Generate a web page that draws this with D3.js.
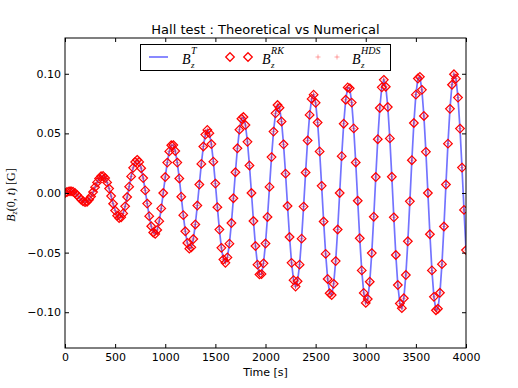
<!DOCTYPE html>
<html><head><meta charset="utf-8">
<script src="https://cdn.jsdelivr.net/npm/d3@7"></script>
<style>body{margin:0;background:#fff}</style>
</head><body><svg id="c" width="518" height="388"></svg>
<script>
// ---- data ----
const times = [
0,20,40,60,80,100,120,140,160,180,200,220,240,260,280,300,320,340,360,380,
400,420,440,460,480,500,520,540,560,580,600,620,640,660,680,700,720,740,760,780,
800,820,840,860,880,900,920,940,960,980,1000,1020,1040,1060,1080,1100,1120,1140,1160,1180,
1200,1220,1240,1260,1280,1300,1320,1340,1360,1380,1400,1420,1440,1460,1480,1500,1520,1540,1560,1580,
1600,1620,1640,1660,1680,1700,1720,1740,1760,1780,1800,1820,1840,1860,1880,1900,1920,1940,1960,1980,
2000,2020,2040,2060,2080,2100,2120,2140,2160,2180,2200,2220,2240,2260,2280,2300,2320,2340,2360,2380,
2400,2420,2440,2460,2480,2500,2520,2540,2560,2580,2600,2620,2640,2660,2680,2700,2720,2740,2760,2780,
2800,2820,2840,2860,2880,2900,2920,2940,2960,2980,3000,3020,3040,3060,3080,3100,3120,3140,3160,3180,
3200,3220,3240,3260,3280,3300,3320,3340,3360,3380,3400,3420,3440,3460,3480,3500,3520,3540,3560,3580,
3600,3620,3640,3660,3680,3700,3720,3740,3760,3780,3800,3820,3840,3860,3880,3900,3920,3940,3960,3980,
4000];
const bzTheory = [
0.0000,0.0008,0.0014,0.0015,0.0011,0.0000,-0.0016,-0.0036,-0.0055,-0.0070,
-0.0077,-0.0073,-0.0056,-0.0029,0.0008,0.0049,0.0089,0.0121,0.0141,0.0143,
0.0125,0.0089,0.0037,-0.0026,-0.0090,-0.0147,-0.0190,-0.0210,-0.0204,-0.0171,
-0.0112,-0.0034,0.0053,0.0139,0.0211,0.0260,0.0278,0.0261,0.0208,0.0125,
0.0022,-0.0089,-0.0194,-0.0279,-0.0331,-0.0343,-0.0310,-0.0236,-0.0129,0.0000,
0.0134,0.0255,0.0349,0.0400,0.0402,0.0352,0.0255,0.0122,-0.0031,-0.0186,
-0.0321,-0.0419,-0.0467,-0.0456,-0.0386,-0.0264,-0.0105,0.0071,0.0244,0.0390,
0.0490,0.0529,0.0502,0.0410,0.0263,0.0079,-0.0119,-0.0307,-0.0460,-0.0558,
-0.0586,-0.0540,-0.0425,-0.0252,-0.0044,0.0174,0.0375,0.0531,0.0623,0.0637,
0.0570,0.0429,0.0231,0.0000,-0.0235,-0.0445,-0.0601,-0.0683,-0.0680,-0.0590,
-0.0424,-0.0201,0.0051,0.0301,0.0515,0.0668,0.0738,0.0715,0.0600,0.0408,
0.0162,-0.0109,-0.0369,-0.0586,-0.0731,-0.0785,-0.0740,-0.0601,-0.0383,-0.0114,
0.0172,0.0440,0.0655,0.0789,0.0825,0.0756,0.0591,0.0349,0.0060,-0.0239,
-0.0511,-0.0721,-0.0841,-0.0856,-0.0762,-0.0571,-0.0306,0.0000,0.0309,0.0581,
0.0782,0.0885,0.0878,0.0758,0.0542,0.0256,-0.0065,-0.0380,-0.0649,-0.0838,
-0.0922,-0.0889,-0.0744,-0.0504,-0.0199,0.0134,0.0451,0.0713,0.0886,0.0949,
0.0891,0.0721,0.0458,0.0136,-0.0204,-0.0520,-0.0772,-0.0927,-0.0966,-0.0883,
-0.0688,-0.0405,-0.0070,0.0275,0.0587,0.0825,0.0960,0.0974,0.0865,0.0646,
0.0345,0.0000,-0.0346,-0.0649,-0.0871,-0.0983,-0.0971,-0.0837,-0.0597,-0.0281,
0.0071,0.0414,0.0706,0.0908,0.0996,0.0959,0.0800,0.0540,0.0213,-0.0142,
-0.0479];
// numerical solutions coincide with the theory at this resolution
const bzRK = bzTheory;
const bzHDS = bzTheory;
const xTicks = [0,500,1000,1500,2000,2500,3000,3500,4000];
const yTicks = [-0.10,-0.05,0.00,0.05,0.10];
const titleText = "Hall test : Theoretical vs Numerical";
const xLabel = "Time [s]";

// ---- drawing ----
const svg = d3.select("#c");
const L = 65, R = 466, T = 38, B = 348;
const x = d3.scaleLinear().domain([0, 4000]).range([L, R]);
const y = d3.scaleLinear().domain([-0.13, 0.13]).range([B, T]);
const font = "DejaVu Sans, sans-serif";
const serif = "Liberation Serif, DejaVu Serif, serif";

svg.append("rect").attr("width",518).attr("height",388).attr("fill","#fff");

svg.append("defs").append("clipPath").attr("id","clip")
  .append("rect").attr("x",L).attr("y",T).attr("width",R-L).attr("height",B-T);

const pts = times.map((t,i)=>({t, v:bzTheory[i], rk:bzRK[i], hds:bzHDS[i]}));
const plot = svg.append("g").attr("clip-path","url(#clip)");

plot.append("path").datum(pts)
  .attr("d", d3.line().x(d=>x(d.t)).y(d=>y(d.v)))
  .attr("fill","none").attr("stroke","#0000ff").attr("stroke-opacity",0.55)
  .attr("stroke-width",1.7);

const diamond = (cx, cy, r) => `M${cx},${cy-r}L${cx+r},${cy}L${cx},${cy+r}L${cx-r},${cy}Z`;
const plus = (cx, cy, r) => `M${cx-r},${cy}H${cx+r}M${cx},${cy-r}V${cy+r}`;

plot.append("g").selectAll("path").data(pts).join("path")
  .attr("d", d=>diamond(x(d.t), y(d.rk), 4.3))
  .attr("fill","none").attr("stroke","#ff0000").attr("stroke-width",1.25);

plot.append("g").selectAll("path").data(pts).join("path")
  .attr("d", d=>plus(x(d.t), y(d.hds), 2.5))
  .attr("fill","none").attr("stroke","#ff0000").attr("stroke-opacity",0.35).attr("stroke-width",1);

// axes
const fmtY = d => d3.format(".2f")(d).replace("-", "\u2212");
const gx = svg.append("g").attr("transform",`translate(0,${B})`)
  .call(d3.axisBottom(x).tickValues(xTicks).tickSize(-4).tickPadding(5).tickFormat(d3.format("d")));
const gxt = svg.append("g").attr("transform",`translate(0,${T})`)
  .call(d3.axisTop(x).tickValues(xTicks).tickSize(-4).tickFormat(""));
const gy = svg.append("g").attr("transform",`translate(${L},0)`)
  .call(d3.axisLeft(y).tickValues(yTicks).tickSize(-4).tickPadding(4).tickFormat(fmtY));
const gyr = svg.append("g").attr("transform",`translate(${R},0)`)
  .call(d3.axisRight(y).tickValues(yTicks).tickSize(-4).tickFormat(""));
[gx,gxt,gy,gyr].forEach(g=>{
  g.select(".domain").remove();
  g.selectAll("line").attr("stroke","#000");
  g.selectAll("text").attr("font-family",font).attr("font-size",11).attr("fill","#000");
});
svg.append("rect").attr("x",L).attr("y",T).attr("width",R-L).attr("height",B-T)
  .attr("fill","none").attr("stroke","#000").attr("stroke-width",1);

// title & labels
svg.append("text").attr("x",(L+R)/2).attr("y",34).attr("text-anchor","middle")
  .attr("font-family",font).attr("font-size",13).text(titleText);
svg.append("text").attr("x",(L+R)/2).attr("y",376).attr("text-anchor","middle")
  .attr("font-family",font).attr("font-size",11).text(xLabel);

const yl = svg.append("text").attr("transform","translate(15,195) rotate(-90)")
  .attr("text-anchor","middle").attr("font-family",serif).attr("font-size",12);
yl.append("tspan").attr("font-style","italic").text("B");
yl.append("tspan").attr("font-style","italic").attr("font-size",8).attr("dy",2).text("z");
yl.append("tspan").attr("dy",-2).text("(0, ");
yl.append("tspan").attr("font-style","italic").text("t");
yl.append("tspan").text(")  [G]");

// legend
const lg = svg.append("g");
lg.append("rect").attr("x",140.5).attr("y",44.5).attr("width",250).attr("height",26)
  .attr("fill","#fff").attr("stroke","#000").attr("stroke-width",1);
lg.append("line").attr("x1",149).attr("x2",168).attr("y1",57).attr("y2",57)
  .attr("stroke","#0000ff").attr("stroke-opacity",0.55).attr("stroke-width",1.7);
[230,248].forEach(cx=>lg.append("path").attr("d",diamond(cx,57,4.3))
  .attr("fill","none").attr("stroke","#ff0000").attr("stroke-width",1.25));
[318,337].forEach(cx=>lg.append("path").attr("d",plus(cx,57,2.5))
  .attr("fill","none").attr("stroke","#ff0000").attr("stroke-opacity",0.35).attr("stroke-width",1));

function mathLabel(x0, sup){
  const b = lg.append("text").attr("x",x0).attr("y",64).attr("font-family",serif)
    .attr("font-style","italic").attr("font-size",14).text("B");
  const w = b.node().getComputedTextLength();
  lg.append("text").attr("x",x0+w+0.5).attr("y",54).attr("font-family",serif)
    .attr("font-style","italic").attr("font-size",10).text(sup);
  lg.append("text").attr("x",x0+w+0.5).attr("y",68).attr("font-family",serif)
    .attr("font-style","italic").attr("font-size",9).text("z");
}
mathLabel(182, "T");
mathLabel(262, "RK");
mathLabel(352, "HDS");
</script>
</body></html>
